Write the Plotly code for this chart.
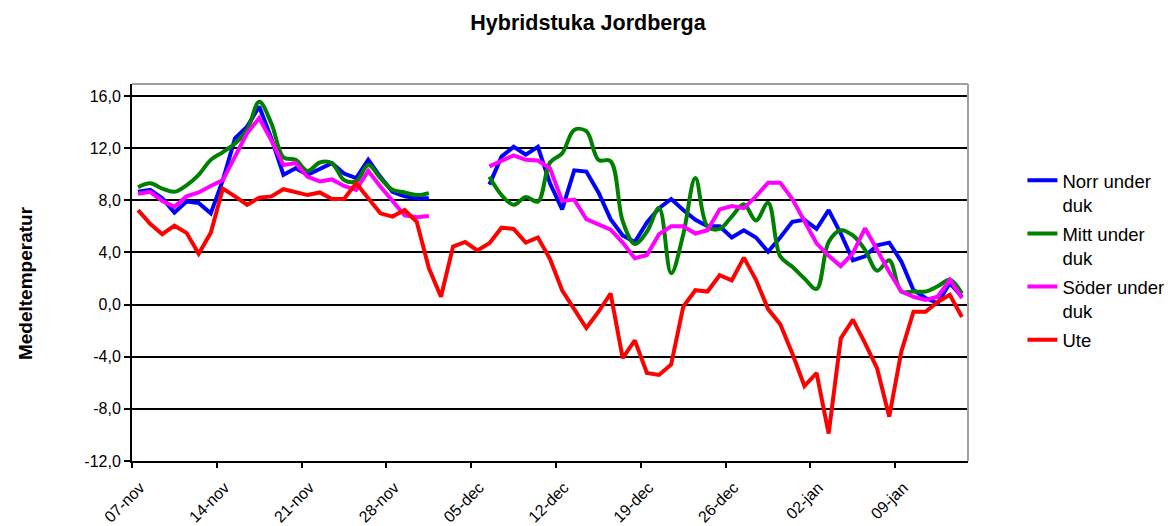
import pandas as pd
import plotly.graph_objects as go

# daily means, 07-nov .. 14-jan (69 days); None = missing
start_date = "2008-11-07"
n_days = 69

norr = [8.65, 8.8, 8.15, 7.05, 7.9, 7.8, 7.0, 9.55, 12.75, 13.65, 15.2, 12.75, 9.95, 10.45,
        9.95, 10.4, 10.85, 10.05, 9.7, 11.1, 9.8, 8.65, 8.3, 8.15, 8.15,
        None, None, None, None,
        9.2, 11.35, 12.1, 11.5, 12.1, 9.3, 7.3, 10.3, 10.2, 8.6, 6.55, 5.3, 4.8, 6.3,
        7.4, 8.1, 7.25, 6.5, 6.0, 6.0, 5.15, 5.7, 5.15, 4.05, 5.15, 6.35, 6.5, 5.8,
        7.25, 5.45, 3.4, 3.7, 4.55, 4.75, 3.3, 1.1, 0.5, 0.1, 1.65, 0.6]

mitt = [9.0, 9.3, 8.9, 8.65, 9.15, 9.95, 11.1, 11.7, 12.35, 13.4, 15.55, 13.9, 11.3, 11.1,
        10.25, 10.9, 10.85, 9.55, 9.45, 10.7, 9.7, 8.8, 8.6, 8.4, 8.55,
        None, None, None, None,
        9.8, 8.4, 7.65, 8.25, 7.9, 10.9, 11.6, 13.4, 13.3, 11.1, 11.0, 6.4, 4.65, 5.6,
        7.4, 2.4, 5.4, 9.7, 6.0, 5.8, 6.75, 7.7, 6.45, 7.8, 3.7, 2.9, 2.0, 1.2,
        4.8, 5.7, 5.3, 4.2, 2.6, 3.4, 1.0, 1.0, 1.0, 1.4, 1.9, 0.85]

soder = [8.5, 8.65, 7.95, 7.5, 8.3, 8.6, 9.1, 9.55, 11.35, 13.15, 14.3, 12.6, 10.7, 10.85,
         9.8, 9.45, 9.6, 9.1, 8.8, 10.25, 9.05, 8.0, 6.85, 6.7, 6.8,
         None, None, None, None,
         10.6, 11.0, 11.45, 11.1, 11.05, 10.45, 7.95, 8.05, 6.55, 6.15, 5.75, 4.75, 3.55, 3.8,
         5.4, 6.0, 6.0, 5.45, 5.7, 7.3, 7.55, 7.4, 8.3, 9.35, 9.35, 8.1, 6.35, 4.7,
         3.75, 2.95, 3.95, 5.85, 4.2, 2.5, 1.0, 0.6, 0.35, 0.6, 1.9, 0.5]

ute = [7.25, 6.2, 5.4, 6.05, 5.5, 3.9, 5.5, 8.9, 8.3, 7.65, 8.2, 8.3, 8.85, 8.6,
       8.4, 8.6, 8.1, 8.1, 9.3, 8.15, 7.0, 6.75, 7.25, 6.35, 2.8,
       0.6, 4.45, 4.8, 4.15,
       4.7, 5.9, 5.8, 4.75, 5.15, 3.5, 1.1, -0.4, -1.8, -0.55, 0.85, -4.1, -2.75, -5.25,
       -5.4, -4.6, -0.15, 1.1, 1.0, 2.25, 1.85, 3.6, 1.9, -0.35, -1.5, -3.75, -6.25, -5.25,
       -9.9, -2.6, -1.15, -2.95, -4.9, -8.6, -3.6, -0.55, -0.55, 0.2, 0.75, -0.95]

x_labels = ["07-nov", "14-nov", "21-nov", "28-nov", "05-dec",
            "12-dec", "19-dec", "26-dec", "02-jan", "09-jan"]
y_vals = [-12, -8, -4, 0, 4, 8, 12, 16]
y_labels = ["-12,0", "-8,0", "-4,0", "0,0", "4,0", "8,0", "12,0", "16,0"]

dates = pd.date_range(start_date, periods=n_days) + pd.Timedelta(hours=12)
tick_dates = pd.date_range(start_date, periods=len(x_labels), freq="7D")

series = [
    ("Norr under<br>duk", norr, "#0000ff", "linear"),
    ("Mitt under<br>duk", mitt, "#008000", "spline"),
    ("Söder under<br>duk", soder, "#ff00ff", "linear"),
    ("Ute", ute, "#ff0000", "linear"),
]

fig = go.Figure()
for i, (name, vals, col, shape) in enumerate(series):
    fig.add_trace(go.Scatter(
        x=dates, y=vals, name=name, mode="lines", legendgroup=str(i),
        line=dict(color=col, width=4, shape=shape),
    ))

# page body has an 8px margin, so the figure is a bit smaller than the window
font = "Arial, Liberation Sans, sans-serif"
fig.update_layout(
    width=1164, height=518,
    margin=dict(l=124, r=204, t=76, b=65),
    plot_bgcolor="white", paper_bgcolor="white",
    font=dict(family=font, color="black", size=16),
    title=dict(text="<b>Hybridstuka Jordberga</b>", font=dict(size=21.5),
               x=0.4983, xanchor="center", y=0.973, yanchor="middle"),
    # legend placed in container coords so it does not squeeze the plot area
    legend=dict(xref="container", yref="container", x=0.8715, xanchor="left",
                y=0.703, yanchor="top", font=dict(size=18.5), valign="top",
                tracegroupgap=2, bgcolor="rgba(0,0,0,0)"),
    showlegend=True,
)
fig.update_xaxes(
    range=[pd.Timestamp(start_date), pd.Timestamp(start_date) + pd.Timedelta(days=n_days)],
    tickvals=tick_dates, ticktext=x_labels, tickangle=-45, tickfont=dict(size=16),
    ticklabelshift=8, ticklabelstandoff=4, automargin=False,
    showgrid=False, showline=True, linecolor="black", linewidth=2,
    ticks="outside", ticklen=5, tickcolor="black", tickwidth=1.5, zeroline=False,
)
fig.update_yaxes(
    range=[-12, 16.92], tickvals=y_vals, ticktext=y_labels, automargin=False,
    showgrid=True, gridcolor="black", gridwidth=1.5,
    showline=True, linecolor="black", linewidth=2,
    ticks="outside", ticklen=6, tickcolor="black", tickwidth=1.5, zeroline=False,
)
fig.add_annotation(text="<b>Medeltemperatur</b>", xref="paper", yref="paper",
                   x=-0.128, y=0.472, xanchor="center", yanchor="middle",
                   textangle=-90, showarrow=False, font=dict(size=19))
# grey frame on top and right of plot area
fig.add_shape(type="line", xref="paper", yref="paper", x0=0, x1=1, y0=1, y1=1,
              line=dict(color="#a0a0a0", width=2))
fig.add_shape(type="line", xref="paper", yref="paper", x0=1, x1=1, y0=0, y1=1,
              line=dict(color="#a0a0a0", width=2))

fig.write_html("out.html")
